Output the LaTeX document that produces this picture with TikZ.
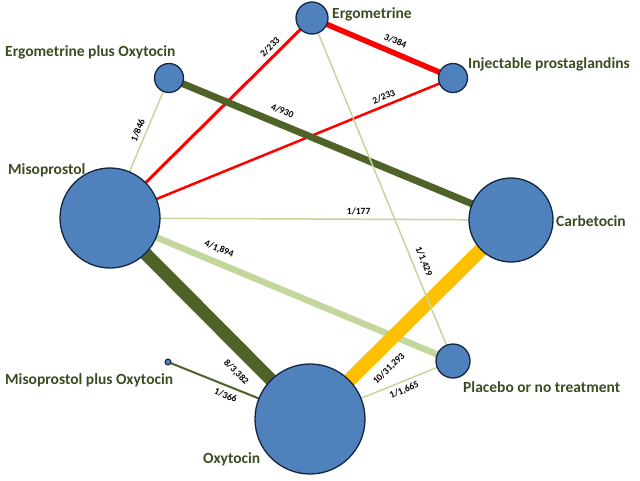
\documentclass[tikz,border=0pt]{standalone}
\usepackage{fontspec}
\setmainfont{Carlito}
\pgfdeclarelayer{bg}
\pgfsetlayers{bg,main}
\definecolor{nodefill}{RGB}{79,129,189}
\definecolor{nodeedge}{RGB}{18,38,66}
\definecolor{txtgreen}{RGB}{60,76,32}
\definecolor{dkgreen}{RGB}{79,98,40}
\definecolor{ltgreen}{RGB}{195,214,155}
\definecolor{orng}{RGB}{255,192,0}
\definecolor{rd}{RGB}{255,0,0}
\tikzset{
  trt/.style={circle, draw=nodeedge, fill=nodefill, line width=1.3pt, inner sep=0pt, minimum size=#1},
  lbl/.style={anchor=west, inner sep=0pt, text=txtgreen, font=\bfseries\fontsize{15.5}{18}\selectfont},
  elbl/.style={sloped, inner sep=1pt, text=black, font=\bfseries\fontsize{9.5}{11}\selectfont},
  conn/.style={line cap=butt},
}
\begin{document}
\begin{tikzpicture}[x=1pt,y=-1pt]
\useasboundingbox (0,0) rectangle (640,480);
% treatment nodes
\node[trt=32pt] (ergo) at (312,18) {};
\node[trt=29pt] (epo) at (169,78) {};
\node[trt=29pt] (inj) at (453,78) {};
\node[trt=100pt] (miso) at (110,218) {};
\node[trt=84pt] (carb) at (511,220) {};
\node[trt=34pt] (plac) at (453,361) {};
\node[trt=110pt] (oxy) at (310,419) {};
\node[circle, draw=nodeedge, fill=nodefill, line width=1pt, inner sep=0pt, minimum size=6pt] (mpo) at (168,362) {};
% names
\node[lbl] (tErgo) at (332,14) {Ergometrine};
\node[lbl] (tEpo) at (5,52) {Ergometrine plus Oxytocin};
\node[lbl] (tInj) at (468,64) {Injectable prostaglandins};
\node[lbl] (tMiso) at (8,170) {Misoprostol};
\node[lbl] (tCarb) at (556,221) {Carbetocin};
\node[lbl] (tMpo) at (5,380) {Misoprostol plus Oxytocin};
\node[lbl] (tPlac) at (463,387) {Placebo or no treatment};
\node[lbl] (tOxy) at (203,459) {Oxytocin};
% connectors
\begin{pgfonlayer}{bg}
\draw[conn, rd, line width=3pt] (miso.center) -- node[elbl, pos=0.823, above=3pt] {2/233} (ergo.center);
\draw[conn, rd, line width=2.5pt] (miso.center) -- node[elbl, pos=0.808, above=3pt] {2/233} (inj.center);
\draw[conn, rd, line width=5.5pt] (ergo.center) -- node[elbl, pos=0.56, above=4pt] {3/384} (inj.center);
\draw[conn, dkgreen, line width=7pt] (epo.center) -- node[elbl, pos=0.317, above=5pt] {4/930} (carb.center);
\draw[conn, ltgreen, line width=1.5pt] (miso.center) -- node[elbl, pos=0.603, above=3pt] {1/846} (epo.center);
\draw[conn, ltgreen, line width=1.5pt] (miso.center) -- node[elbl, pos=0.62, above=3pt] {1/177} (carb.center);
\draw[conn, ltgreen, line width=6.5pt] (miso.center) -- node[elbl, pos=0.303, above=5pt] {4/1,894} (plac.center);
\draw[conn, dkgreen, line width=13pt] (miso.center) -- node[elbl, pos=0.70, below=8pt] {8/3,382} (oxy.center);
\draw[conn, dkgreen, line width=2pt] (mpo.center) -- node[elbl, pos=0.431, below=4pt] {1/366} (oxy.center);
\draw[conn, orng, line width=14pt] (oxy.center) -- node[elbl, pos=0.323, below=8pt] {10/31,293} (carb.center);
\draw[conn, ltgreen, line width=1.5pt] (ergo.center) -- node[elbl, pos=0.722, above=5pt] {1/1,429} (plac.center);
\draw[conn, ltgreen, line width=1.5pt] (oxy.center) -- node[elbl, pos=0.636, below=3pt] {1/1,665} (plac.center);
\end{pgfonlayer}
\end{tikzpicture}
\end{document}
